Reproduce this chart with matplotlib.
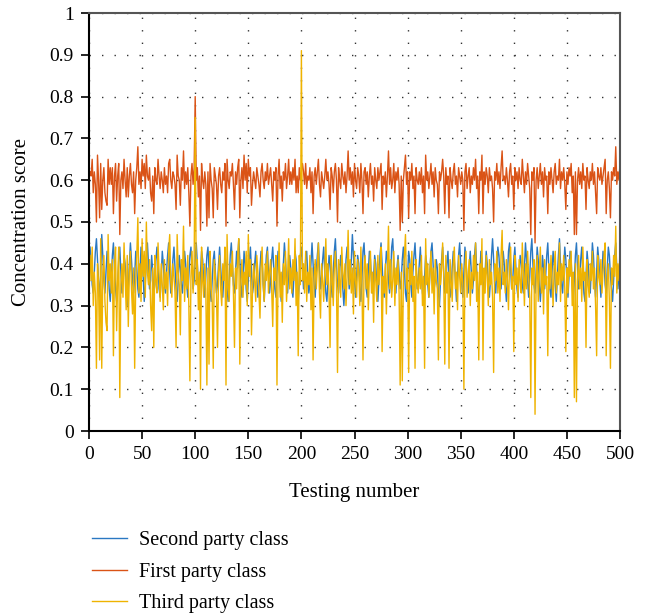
import numpy as np
import matplotlib
matplotlib.use("Agg")
import matplotlib.pyplot as plt
from matplotlib.ticker import FormatStrFormatter

plt.rcParams['font.family'] = ['Liberation Serif', 'DejaVu Serif']

# testing number 1..500
testing_number = list(range(1, 501))

second_party = [
    .44, .40, .35, .33, .38, .43, .46, .41, .36, .32,
    .37, .47, .42, .36, .33, .38, .43, .40, .34, .31,
    .36, .42, .45, .39, .34, .31, .35, .41, .44, .38,
    .33, .36, .42, .40, .35, .30, .34, .40, .45, .41,
    .36, .33, .37, .43, .39, .34, .32, .38, .44, .42,
    .37, .31, .35, .41, .45, .40, .34, .36, .42, .38,
    .33, .35, .41, .44, .39, .34, .32, .37, .43, .40,
    .35, .33, .38, .42, .45, .38, .33, .36, .41, .44,
    .39, .34, .31, .36, .42, .39, .35, .33, .38, .43,
    .40, .35, .32, .37, .42, .44, .39, .34, .36, .41,
    .45, .40, .35, .33, .38, .43, .41, .36, .32, .37,
    .42, .44, .39, .34, .31, .36, .41, .43, .38, .33,
    .35, .40, .44, .39, .35, .32, .37, .42, .40, .34,
    .31, .36, .42, .45, .40, .35, .33, .38, .43, .39,
    .46, .41, .35, .32, .37, .43, .40, .34, .31, .36,
    .41, .44, .38, .33, .35, .40, .43, .37, .32, .34,
    .39, .43, .41, .35, .31, .37, .42, .44, .38, .33,
    .36, .41, .44, .39, .34, .32, .38, .43, .40, .35,
    .31, .35, .40, .45, .41, .36, .33, .38, .42, .39,
    .34, .32, .37, .43, .41, .35, .31, .36, .42, .44,
    .39, .34, .36, .41, .43, .37, .33, .35, .40, .45,
    .40, .35, .32, .38, .42, .45, .39, .34, .37, .41,
    .44, .38, .33, .31, .36, .42, .40, .35, .32, .38,
    .43, .46, .40, .35, .33, .38, .42, .39, .34, .30,
    .35, .41, .44, .39, .34, .36, .41, .47, .42, .36,
    .32, .37, .42, .40, .35, .31, .36, .43, .45, .39,
    .34, .32, .38, .43, .41, .36, .33, .37, .42, .40,
    .35, .31, .36, .42, .45, .40, .34, .32, .38, .43,
    .41, .36, .33, .37, .44, .46, .40, .35, .33, .39,
    .42, .38, .34, .36, .41, .44, .39, .33, .31, .37,
    .43, .41, .35, .32, .38, .42, .45, .39, .34, .36,
    .40, .44, .38, .33, .31, .37, .42, .40, .35, .32,
    .38, .43, .45, .40, .34, .36, .41, .39, .33, .30,
    .36, .41, .44, .38, .33, .35, .40, .43, .37, .32,
    .34, .39, .43, .41, .36, .31, .37, .42, .45, .40,
    .35, .32, .38, .44, .41, .36, .33, .39, .43, .38,
    .33, .36, .42, .45, .39, .34, .31, .37, .43, .41,
    .36, .33, .38, .43, .40, .35, .32, .36, .42, .46,
    .41, .35, .33, .39, .44, .42, .37, .34, .38, .43,
    .40, .35, .31, .37, .43, .45, .39, .34, .36, .41,
    .44, .39, .34, .32, .38, .42, .40, .35, .33, .39,
    .45, .41, .36, .32, .37, .43, .46, .40, .35, .33,
    .38, .44, .41, .35, .31, .36, .42, .39, .34, .37,
    .42, .45, .39, .34, .32, .38, .43, .40, .35, .31,
    .37, .42, .46, .40, .35, .33, .39, .44, .41, .36,
    .32, .37, .43, .41, .35, .31, .36, .42, .45, .39,
    .34, .36, .41, .44, .38, .33, .31, .37, .43, .40,
    .35, .33, .39, .45, .42, .36, .32, .38, .44, .41,
    .36, .32, .37, .43, .40, .35, .33, .39, .44, .42,
    .37, .34, .31, .36, .42, .45, .39, .34, .37, .35,
]

first_party = [
    .62, .61, .65, .57, .62, .59, .50, .66, .60, .51,
    .64, .53, .60, .63, .57, .55, .54, .65, .59, .63,
    .59, .63, .52, .61, .64, .55, .61, .64, .47, .60,
    .62, .58, .65, .60, .56, .63, .56, .61, .64, .59,
    .57, .62, .52, .60, .63, .68, .59, .62, .58, .65,
    .61, .64, .58, .66, .61, .60, .63, .57, .55, .61,
    .52, .63, .60, .59, .65, .61, .58, .62, .60, .57,
    .63, .59, .61, .57, .64, .65, .60, .58, .62, .61,
    .59, .53, .66, .61, .60, .54, .63, .60, .67, .58,
    .62, .59, .63, .57, .49, .61, .64, .59, .63, .80,
    .60, .63, .56, .61, .48, .64, .60, .58, .62, .59,
    .49, .62, .51, .64, .60, .58, .51, .63, .61, .59,
    .53, .61, .63, .59, .57, .62, .60, .64, .49, .65,
    .60, .58, .62, .61, .64, .59, .53, .62, .59, .63,
    .65, .51, .60, .63, .58, .66, .60, .64, .57, .65,
    .61, .63, .54, .59, .62, .60, .58, .63, .61, .59,
    .56, .62, .64, .60, .58, .62, .60, .64, .59, .61,
    .63, .59, .55, .62, .60, .63, .49, .61, .65, .58,
    .61, .55, .62, .60, .64, .58, .61, .65, .59, .62,
    .59, .63, .60, .65, .57, .61, .57, .63, .60, .62,
    .64, .62, .59, .64, .58, .61, .60, .63, .57, .62,
    .52, .61, .63, .59, .62, .65, .59, .56, .62, .60,
    .58, .61, .65, .60, .62, .59, .53, .63, .61, .57,
    .62, .64, .60, .50, .63, .60, .58, .64, .61, .59,
    .62, .57, .61, .67, .60, .63, .59, .62, .56, .64,
    .60, .58, .63, .61, .57, .64, .60, .52, .62, .63,
    .59, .62, .56, .61, .64, .59, .61, .55, .63, .60,
    .58, .63, .60, .62, .64, .53, .61, .59, .62, .56,
    .61, .67, .59, .63, .58, .60, .64, .57, .62, .60,
    .63, .59, .48, .61, .50, .60, .63, .66, .59, .62,
    .51, .62, .60, .64, .58, .61, .52, .63, .60, .59,
    .62, .59, .63, .57, .61, .52, .66, .60, .62, .58,
    .61, .64, .59, .62, .56, .63, .60, .59, .52, .62,
    .60, .62, .65, .61, .52, .63, .59, .61, .51, .63,
    .60, .58, .62, .64, .59, .61, .56, .63, .61, .59,
    .62, .60, .48, .62, .64, .58, .61, .63, .57, .61,
    .59, .63, .60, .65, .58, .61, .52, .62, .60, .66,
    .52, .62, .59, .63, .61, .57, .63, .60, .61, .58,
    .50, .62, .60, .64, .59, .62, .58, .63, .67, .60,
    .61, .59, .63, .60, .56, .62, .64, .59, .61, .53,
    .63, .60, .62, .58, .63, .60, .59, .65, .61, .57,
    .62, .59, .64, .61, .58, .47, .62, .60, .63, .45,
    .60, .63, .58, .61, .64, .59, .62, .56, .63, .60,
    .61, .52, .62, .59, .63, .60, .57, .62, .64, .59,
    .61, .60, .65, .58, .62, .60, .63, .59, .53, .62,
    .59, .63, .61, .64, .57, .61, .47, .62, .47, .60,
    .63, .59, .62, .58, .64, .60, .61, .53, .63, .60,
    .58, .62, .60, .64, .59, .62, .57, .52, .63, .61,
    .60, .63, .59, .61, .63, .65, .52, .60, .62, .58,
    .51, .62, .60, .63, .61, .68, .59, .62, .60, .64,
]

third_party = [
    .42, .36, .44, .30, .38, .33, .15, .40, .35, .17,
    .46, .15, .38, .42, .31, .26, .24, .47, .36, .40,
    .33, .41, .18, .39, .44, .24, .36, .44, .08, .35,
    .40, .32, .45, .37, .29, .42, .25, .38, .43, .34,
    .28, .39, .15, .36, .42, .51, .33, .40, .31, .46,
    .37, .43, .32, .50, .38, .35, .41, .30, .24, .39,
    .20, .42, .36, .33, .45, .38, .31, .40, .35, .29,
    .41, .34, .38, .30, .43, .47, .36, .32, .40, .37,
    .33, .20, .47, .38, .35, .23, .41, .36, .49, .31,
    .39, .34, .42, .30, .12, .37, .43, .33, .40, .75,
    .35, .41, .29, .38, .10, .44, .36, .32, .40, .34,
    .11, .39, .16, .43, .35, .31, .15, .41, .37, .33,
    .20, .38, .42, .34, .30, .40, .36, .44, .11, .47,
    .35, .31, .40, .37, .43, .33, .20, .39, .34, .42,
    .46, .16, .36, .41, .32, .38, .35, .43, .30, .47,
    .37, .41, .23, .34, .40, .36, .31, .42, .38, .33,
    .27, .39, .44, .35, .31, .40, .36, .43, .33, .38,
    .41, .34, .25, .39, .36, .42, .11, .37, .45, .32,
    .38, .26, .40, .35, .43, .31, .37, .46, .34, .39,
    .33, .41, .36, .46, .30, .38, .18, .42, .35, .91,
    .36, .40, .33, .43, .31, .38, .35, .42, .29, .39,
    .17, .37, .41, .34, .39, .45, .33, .27, .40, .36,
    .31, .38, .46, .35, .40, .33, .20, .42, .37, .30,
    .39, .43, .35, .14, .41, .36, .32, .44, .38, .34,
    .40, .30, .37, .48, .35, .41, .33, .39, .28, .43,
    .36, .32, .41, .38, .30, .44, .35, .17, .39, .42,
    .34, .40, .29, .37, .43, .33, .38, .26, .41, .36,
    .31, .42, .35, .39, .44, .19, .37, .33, .40, .28,
    .38, .49, .34, .41, .32, .36, .43, .30, .39, .35,
    .41, .33, .11, .38, .12, .36, .42, .47, .34, .39,
    .14, .40, .35, .43, .31, .37, .15, .41, .36, .33,
    .39, .34, .42, .30, .37, .15, .46, .35, .40, .32,
    .38, .43, .33, .39, .28, .41, .36, .34, .17, .40,
    .35, .39, .45, .37, .16, .42, .33, .38, .15, .41,
    .36, .31, .40, .44, .34, .38, .29, .42, .37, .33,
    .40, .35, .10, .39, .43, .32, .37, .41, .30, .38,
    .34, .42, .36, .45, .31, .38, .17, .40, .35, .46,
    .17, .39, .33, .42, .37, .30, .41, .35, .38, .32,
    .14, .40, .36, .43, .33, .39, .31, .42, .48, .35,
    .38, .33, .41, .36, .29, .40, .44, .34, .37, .19,
    .42, .35, .39, .31, .41, .36, .33, .45, .38, .30,
    .40, .34, .43, .37, .32, .08, .39, .35, .41, .04,
    .36, .42, .31, .38, .44, .33, .39, .28, .41, .35,
    .37, .18, .40, .34, .42, .36, .30, .39, .43, .33,
    .38, .35, .45, .31, .40, .36, .42, .34, .19, .39,
    .33, .41, .37, .43, .30, .38, .08, .40, .07, .36,
    .42, .34, .39, .31, .44, .36, .38, .20, .41, .35,
    .32, .40, .36, .43, .34, .39, .30, .18, .42, .37,
    .35, .41, .33, .38, .42, .45, .18, .36, .40, .31,
    .15, .39, .35, .42, .37, .49, .33, .40, .36, .44,
]

series_names = ['Second party class', 'First party class', 'Third party class']
series_colors = ['#2A78C2', '#DA5316', '#EFB301']

fig = plt.figure(figsize=(6.55, 6.16), dpi=100)
ax = fig.add_axes([89 / 655, 1 - 431 / 616, 531 / 655, 418 / 616])

for vals, name, col in zip([second_party, first_party, third_party], series_names, series_colors):
    ax.plot(testing_number, vals, color=col, lw=1.0, label=name)

ax.set_xlim(0, 500)
ax.set_ylim(0, 1)
ax.set_xticks(np.arange(0, 501, 50))
ax.set_yticks(np.arange(0, 1.01, 0.1))
ax.yaxis.set_major_formatter(FormatStrFormatter('%g'))
ax.grid(True, linestyle=(0, (1, 8)), color='#333333', lw=1.0)
ax.tick_params(direction='out', length=6, width=1.2, labelsize=14, colors='black', pad=5)
for side in ['left', 'bottom']:
    ax.spines[side].set_linewidth(1.5)
    ax.spines[side].set_color('black')
for side in ['top', 'right']:
    ax.spines[side].set_linewidth(1.5)
    ax.spines[side].set_color('#555555')

ax.set_xlabel('Testing number', fontsize=15, labelpad=14)
ax.set_ylabel('Concentration score', fontsize=15, labelpad=13)

fig.legend(loc='center left', bbox_to_anchor=(74 / 655, 1 - 572 / 616), frameon=False,
           fontsize=14.5, handlelength=1.75, handletextpad=0.6, labelspacing=0.6)

fig.savefig('out.png', dpi=100)
